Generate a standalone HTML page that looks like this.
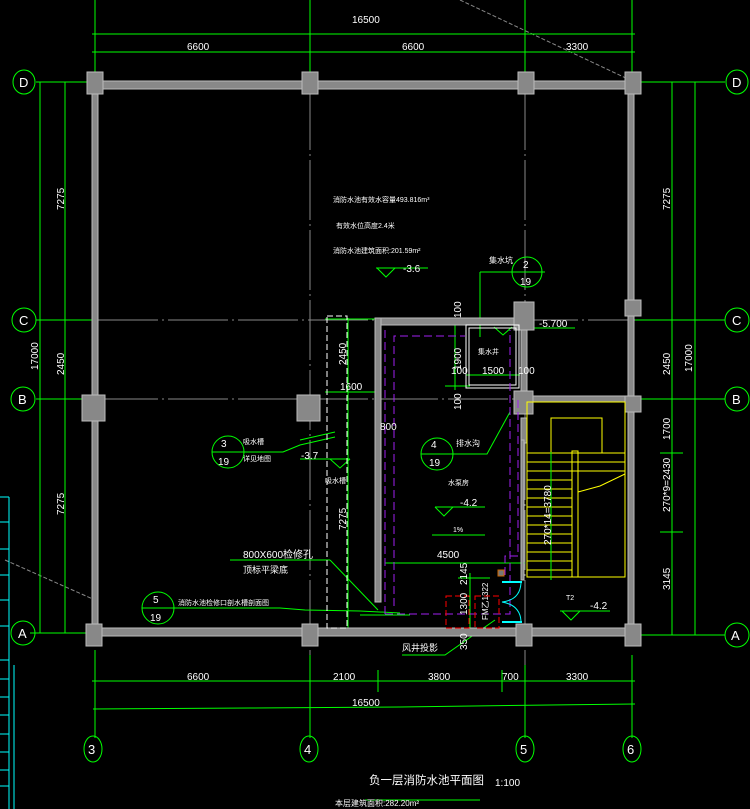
<!DOCTYPE html><html><head><meta charset="utf-8"><style>html,body{margin:0;padding:0;background:#000;width:750px;height:809px;overflow:hidden}svg{display:block}text{font-family:"Liberation Sans","Noto Sans CJK SC",sans-serif;fill:#fff}</style></head><body>
<svg width="750" height="809" viewBox="0 0 750 809" xmlns="http://www.w3.org/2000/svg">
<rect width="750" height="809" fill="#000"/>
<g stroke="#888" stroke-width="1" fill="none">
<line x1="460" y1="0" x2="630" y2="80" stroke-dasharray="4,2"/>
<line x1="5" y1="560" x2="95" y2="600" stroke-dasharray="4,2"/>
<line x1="98" y1="320" x2="640" y2="320" stroke-dasharray="60,4,2,4"/>
<line x1="98" y1="399" x2="640" y2="399" stroke-dasharray="60,4,2,4"/>
<line x1="310" y1="90" x2="310" y2="700" stroke-dasharray="60,4,2,4"/>
<line x1="525" y1="90" x2="525" y2="700" stroke-dasharray="60,4,2,4"/>
</g>
<g stroke="#0ff" stroke-width="1"><line x1="9" y1="497" x2="9" y2="809"/><line x1="14" y1="665" x2="14" y2="809"/>
<line x1="0" y1="497" x2="9" y2="497"/><line x1="0" y1="522" x2="9" y2="522"/><line x1="0" y1="549" x2="9" y2="549"/><line x1="0" y1="575" x2="9" y2="575"/><line x1="0" y1="600" x2="9" y2="600"/><line x1="0" y1="626" x2="9" y2="626"/><line x1="0" y1="660" x2="9" y2="660"/><line x1="0" y1="679" x2="9" y2="679"/><line x1="0" y1="697" x2="9" y2="697"/><line x1="0" y1="715" x2="9" y2="715"/><line x1="0" y1="734" x2="9" y2="734"/><line x1="0" y1="752" x2="9" y2="752"/><line x1="0" y1="770" x2="9" y2="770"/><line x1="0" y1="786" x2="9" y2="786"/></g>
<g stroke="#0f0" stroke-width="1" fill="none">
<line x1="95" y1="0" x2="95" y2="75"/><line x1="310" y1="0" x2="310" y2="72"/><line x1="525" y1="0" x2="525" y2="72"/><line x1="632" y1="0" x2="632" y2="72"/>
<line x1="92" y1="34" x2="635" y2="34"/><line x1="92" y1="52" x2="635" y2="52"/>
<line x1="40" y1="82" x2="40" y2="633"/><line x1="65" y1="82" x2="65" y2="633"/>
<line x1="36" y1="82" x2="92" y2="82"/><line x1="36" y1="320" x2="92" y2="320"/><line x1="36" y1="399" x2="92" y2="399"/><line x1="30" y1="633" x2="100" y2="633"/>
<line x1="672" y1="82" x2="672" y2="635"/><line x1="695" y1="82" x2="695" y2="635"/>
<line x1="640" y1="82" x2="725" y2="82"/><line x1="635" y1="320" x2="725" y2="320"/><line x1="635" y1="399" x2="725" y2="399"/><line x1="635" y1="635" x2="725" y2="635"/>
<line x1="660" y1="453" x2="683" y2="453"/><line x1="660" y1="532" x2="683" y2="532"/>
<line x1="95" y1="650" x2="95" y2="738"/><line x1="310" y1="655" x2="310" y2="738"/><line x1="525" y1="665" x2="525" y2="738"/><line x1="632" y1="655" x2="632" y2="738"/>
<line x1="92" y1="681" x2="635" y2="681"/><line x1="378" y1="670" x2="378" y2="692"/><line x1="502" y1="670" x2="502" y2="692"/>
<polyline points="93,709 250,708 400,707 550,705 635,704"/>
<line x1="365" y1="800" x2="480" y2="800"/>
<ellipse cx="24" cy="82" rx="11" ry="12"/><ellipse cx="24" cy="320" rx="12" ry="12"/><ellipse cx="23" cy="399" rx="12" ry="12"/><ellipse cx="23" cy="633" rx="12" ry="12"/>
<ellipse cx="737" cy="82" rx="11" ry="12"/><ellipse cx="737" cy="320" rx="12" ry="12"/><ellipse cx="737" cy="399" rx="12" ry="12"/><ellipse cx="737" cy="635" rx="12" ry="12"/>
<ellipse cx="93" cy="749" rx="9" ry="13"/><ellipse cx="309" cy="749" rx="9" ry="13"/><ellipse cx="525" cy="749" rx="9" ry="13"/><ellipse cx="632" cy="749" rx="9" ry="13"/>
<line x1="348" y1="318" x2="348" y2="635"/><line x1="325" y1="319" x2="375" y2="319"/><line x1="325" y1="392" x2="378" y2="392"/>
<line x1="385" y1="563" x2="525" y2="563"/>
<line x1="455" y1="322" x2="455" y2="390"/><line x1="445" y1="323" x2="505" y2="323"/><line x1="445" y1="386" x2="470" y2="386"/>
<line x1="466" y1="375" x2="520" y2="375"/>
<line x1="480" y1="272" x2="480" y2="337"/><line x1="480" y1="272" x2="545" y2="272"/>
<circle cx="527" cy="272" r="15"/><line x1="512" y1="272" x2="542" y2="272"/>
<line x1="520" y1="328" x2="575" y2="328"/>
<polyline points="376,268 428,268"/><polyline points="377,268 386,277 395,268"/>
<polyline points="494,327 503,335 512,327"/>
<circle cx="228" cy="452" r="16"/><line x1="212" y1="452" x2="244" y2="452"/>
<polyline points="243,452 283,452 300,445 335,437"/><line x1="300" y1="440" x2="335" y2="432"/>
<line x1="300" y1="459" x2="350" y2="459"/><polyline points="330,459 340,468 350,459"/>
<circle cx="437" cy="454" r="16"/><line x1="421" y1="454" x2="453" y2="454"/>
<polyline points="453,454 487,454 510,412"/>
<line x1="435" y1="507" x2="485" y2="507"/><polyline points="435,507 444,516 453,507"/>
<line x1="432" y1="535" x2="485" y2="535"/>
<line x1="230" y1="560" x2="330" y2="560"/><polyline points="330,560 378,610"/>
<circle cx="158" cy="608" r="16"/><line x1="142" y1="608" x2="174" y2="608"/>
<polyline points="174,608 280,608 305,610 360,611 400,613"/>
<line x1="360" y1="615" x2="410" y2="615"/>
<polyline points="402,655 445,655 495,620"/>
<line x1="470" y1="573" x2="470" y2="633"/><line x1="458" y1="578" x2="490" y2="578"/>
<line x1="560" y1="611" x2="610" y2="611"/><polyline points="562,611 571,620 580,611"/>
</g>
<g fill="#888" stroke="#bbb" stroke-width="1">
<rect x="92" y="81" width="542" height="8"/>
<rect x="92" y="86" width="6" height="548"/>
<rect x="628" y="86" width="6" height="548"/>
<rect x="92" y="628" width="542" height="8"/>
<rect x="375" y="318" width="150" height="7"/>
<rect x="375" y="318" width="6" height="284"/>
<rect x="521" y="318" width="6" height="80"/>
<rect x="521" y="418" width="6" height="25"/>
<rect x="521" y="440" width="3" height="140"/>
<rect x="525" y="396" width="107" height="6"/>
<rect x="87" y="72" width="16" height="22"/><rect x="302" y="72" width="16" height="22"/><rect x="518" y="72" width="16" height="22"/><rect x="625" y="72" width="16" height="22"/>
<rect x="82" y="395" width="23" height="26"/><rect x="297" y="395" width="23" height="26"/>
<rect x="514" y="302" width="20" height="28"/><rect x="514" y="391" width="19" height="23"/>
<rect x="625" y="300" width="16" height="16"/><rect x="625" y="396" width="16" height="16"/>
<rect x="86" y="624" width="16" height="22"/><rect x="302" y="624" width="16" height="22"/><rect x="516" y="624" width="16" height="22"/><rect x="625" y="624" width="16" height="22"/>
</g>
<rect x="327" y="316" width="20" height="312" fill="none" stroke="#fff" stroke-dasharray="6,3"/>
<rect x="466" y="325" width="53" height="63" fill="none" stroke="#fff"/>
<rect x="469" y="328" width="47" height="57" fill="none" stroke="#fff"/>
<g stroke="#a020f0" fill="none" stroke-dasharray="8,4"><polyline points="385,614 510,614 510,330"/><line x1="385" y1="330" x2="385" y2="614"/><polyline points="394,606 394,336 465,336"/><polyline points="505,575 505,556 518,556 518,400"/></g>
<g stroke="#ff0" fill="none">
<rect x="527" y="402" width="98" height="175"/>
<rect x="551" y="418" width="51" height="35"/>
<rect x="572" y="451" width="6" height="126"/>
<g><line x1="527" y1="453" x2="625" y2="453"/><line x1="527" y1="462" x2="625" y2="462"/><line x1="527" y1="471" x2="625" y2="471"/><line x1="527" y1="480" x2="572" y2="480"/><line x1="527" y1="489" x2="572" y2="489"/><line x1="527" y1="498" x2="572" y2="498"/><line x1="527" y1="507" x2="572" y2="507"/><line x1="527" y1="516" x2="572" y2="516"/><line x1="527" y1="525" x2="572" y2="525"/><line x1="527" y1="534" x2="572" y2="534"/><line x1="527" y1="543" x2="572" y2="543"/><line x1="527" y1="552" x2="572" y2="552"/><line x1="527" y1="561" x2="572" y2="561"/><line x1="527" y1="570" x2="572" y2="570"/></g>
<polyline points="578,492 600,486 625,474"/>
</g>
<line x1="551" y1="452" x2="551" y2="580" stroke="#0f0"/>
<g stroke="#f00" fill="none" stroke-dasharray="6,3"><rect x="446" y="596" width="23" height="32"/><rect x="475" y="596" width="24" height="32"/></g>
<g stroke="#0ff" fill="none" stroke-width="2"><line x1="502" y1="582" x2="522" y2="582"/><line x1="502" y1="622" x2="522" y2="622"/></g>
<path d="M521,583 Q520,600 502,602 Q520,605 521,621" stroke="#0ff" fill="none"/>
<rect x="498" y="570" width="6" height="6" fill="#777" stroke="#c60"/>
<g font-size="10">
<text x="352" y="23">16500</text><text x="187" y="50">6600</text><text x="402" y="50">6600</text><text x="566" y="50">3300</text>
<text x="187" y="680">6600</text><text x="333" y="680">2100</text><text x="428" y="680">3800</text><text x="502" y="680">700</text><text x="566" y="680">3300</text>
<text x="352" y="706">16500</text>
<text x="369" y="784" font-size="11.5">负一层消防水池平面图</text><text x="495" y="786" font-size="10">1:100</text>
<text x="335" y="806" font-size="8">本层建筑面积:282.20m²</text>
<text x="333" y="202" font-size="7">消防水池有效水容量493.816m³</text>
<text x="336" y="228" font-size="7">有效水位高度2.4米</text>
<text x="333" y="253" font-size="7">消防水池建筑面积:201.59m²</text>
<text x="403" y="272">-3.6</text>
<text x="489" y="263" font-size="8">集水坑</text>
<text x="539" y="327">-5.700</text>
<text x="478" y="354" font-size="7">集水井</text>
<text x="451" y="374">100</text><text x="482" y="374">1500</text><text x="518" y="374">100</text>
<text x="340" y="390">1600</text><text x="380" y="430">800</text>
<text x="456" y="446" font-size="8">排水沟</text>
<text x="448" y="485" font-size="7">水泵房</text>
<text x="460" y="506">-4.2</text><text x="453" y="532" font-size="7">1%</text>
<text x="437" y="558">4500</text>
<text x="243" y="444" font-size="7">吸水槽</text><text x="243" y="461" font-size="7">详见地图</text>
<text x="301" y="459">-3.7</text>
<text x="325" y="483" font-size="7">吸水槽</text>
<text x="243" y="558">800X600检修孔</text>
<text x="243" y="573" font-size="9">顶标平梁底</text>
<text x="178" y="605" font-size="7">消防水池检修口剖水槽剖面图</text>
<text x="402" y="651" font-size="9">风井投影</text>
<text x="566" y="600" font-size="7">T2</text><text x="590" y="609">-4.2</text>
<text x="221" y="447">3</text><text x="218" y="465">19</text>
<text x="431" y="448">4</text><text x="429" y="466">19</text>
<text x="153" y="603">5</text><text x="150" y="621">19</text>
<text x="523" y="268">2</text><text x="520" y="285">19</text>
<g font-size="13"><text x="19" y="87">D</text><text x="19" y="325">C</text><text x="18" y="404">B</text><text x="18" y="638">A</text>
<text x="732" y="87">D</text><text x="732" y="325">C</text><text x="732" y="404">B</text><text x="731" y="640">A</text>
<text x="88" y="754">3</text><text x="304" y="754">4</text><text x="520" y="754">5</text><text x="627" y="754">6</text></g>
<g transform="rotate(-90)">
<text x="-210" y="64">7275</text><text x="-370" y="38">17000</text><text x="-375" y="64">2450</text><text x="-515" y="64">7275</text>
<text x="-210" y="670">7275</text><text x="-375" y="670">2450</text><text x="-372" y="692">17000</text><text x="-440" y="670">1700</text><text x="-512" y="670">270*9=2430</text><text x="-590" y="670">3145</text>
<text x="-365" y="346">2450</text><text x="-530" y="346">7275</text><text x="-545" y="551">270*14=3780</text>
<text x="-370" y="461">1900</text><text x="-318" y="461">100</text><text x="-410" y="461">100</text>
<text x="-585" y="467">2145</text><text x="-615" y="467">1300</text><text x="-650" y="467">350</text><text x="-620" y="488" font-size="8">FM乙1322</text>
</g>
</g>
</svg>
</body></html>
